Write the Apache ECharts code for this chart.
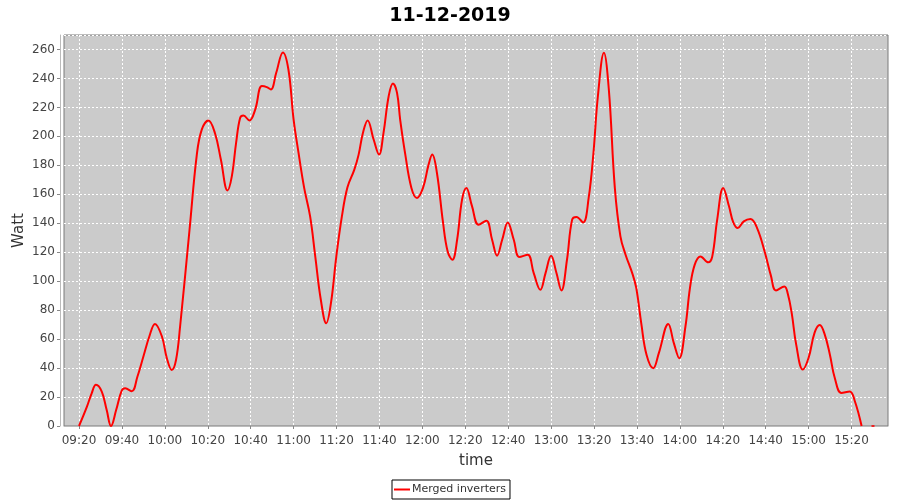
<!DOCTYPE html>
<html>
<head>
<meta charset="utf-8">
<script src="https://cdn.jsdelivr.net/npm/echarts@6/dist/echarts.min.js"></script>
<style>html,body{margin:0;padding:0;background:#fff}#c{width:900px;height:500px}</style>
</head>
<body>
<div id="c"></div>
<script>
const title = '11-12-2019';
const seriesName = 'Merged inverters';
const xTickLabels = ['09:20','09:40','10:00','10:20','10:40','11:00','11:20','11:40','12:00','12:20','12:40','13:00','13:20','13:40','14:00','14:20','14:40','15:00','15:20'];
const times = [
'09:20:00','09:23:36','09:25:54','09:27:54','09:30:36','09:32:54','09:34:54','09:37:18','09:39:54','09:41:30',
'09:44:36','09:47:12','09:50:00','09:52:48','09:55:24','09:58:36','10:00:54','10:03:12','10:05:12','10:07:06',
'10:11:30','10:14:54','10:17:12','10:20:18','10:23:24','10:26:06','10:29:12','10:31:12','10:33:12','10:35:06',
'10:36:36','10:39:24','10:42:06','10:45:12','10:47:30','10:49:24','10:51:54','10:55:00','10:57:36','11:00:00',
'11:02:18','11:04:54','11:07:42','11:10:06','11:12:42','11:15:12','11:17:24','11:19:54','11:22:30','11:25:06',
'11:28:18','11:30:18','11:32:18','11:34:30','11:37:18','11:39:48','11:41:54','11:44:18','11:46:18','11:48:12',
'11:49:42','11:52:00','11:54:54','11:57:30','12:00:18','12:02:54','12:04:36','12:06:48','12:09:36','12:11:48',
'12:14:00','12:16:12','12:18:30','12:20:30','12:23:06','12:26:12','12:29:48','12:32:30','12:34:48','12:37:12',
'12:39:48','12:42:36','12:45:12','12:49:06','12:51:54','12:55:00','12:57:24','13:00:00','13:02:30','13:04:48',
'13:07:24','13:09:48','13:11:48','13:14:54','13:17:30','13:19:42','13:21:48','13:24:36','13:26:54','13:29:42',
'13:32:18','13:34:42','13:37:48','13:39:42','13:42:00','13:44:30','13:47:36','13:50:12','13:54:36','13:57:12',
'13:59:42','14:02:36','14:04:42','14:06:54','14:09:36','14:13:12','14:15:06','14:17:24','14:20:12','14:22:54',
'14:24:54','14:27:00','14:29:48','14:32:54','14:36:00','14:39:36','14:42:24','14:44:48','14:48:42','14:50:18',
'14:52:12','14:54:12','14:57:18','15:00:00','15:02:48','15:05:12','15:07:30','15:09:54','15:12:12','15:15:18',
'15:19:12','15:21:36','15:24:42'];
const watts = [
0,13,22.6,28.4,23.7,11,0,11,24.4,26,
24,34,48,62,70.5,62,47,38.7,45.6,68.7,
135.5,187.4,204.7,211,202,184,162.7,172.4,195.5,212.8,
214.4,211,218.5,234.7,234,232.4,243.9,258,246,211.6,
188.6,164.6,144.7,117,87,71,84.8,117,144.7,164.8,
177,187.4,202.4,211,197.8,187.4,202.4,227.7,236.5,230,
211,187.9,164.4,157.5,164.4,180.5,187.4,174.7,140.9,120.5,
114.8,128.6,156.3,164.4,152,139,141.8,128.6,117.6,128.6,
140.6,128.6,116.7,118.3,105.6,94,105.6,117.6,105.6,93.6,
114.8,142.5,144.3,140.6,157.5,188,227.7,257.7,232.4,164.4,
131,118.3,105.6,95.2,71,49,39.9,50.3,70.5,57.2,
46.8,68.7,95.2,111.3,117.1,113,117.1,142.5,164.4,151.7,
140.6,136.7,141.3,142.9,136.7,120,104,93.6,96.3,91.3,
77.3,56.4,39,47.1,64.5,69.8,63.3,49.4,33.2,22.8,
23.9,16.9,0];
const lastTimes = ['15:30:00'];
const lastWatts = [0];
const xMinLabel = '09:13';
const xMaxLabel = '15:37';
const yMin = 0, yMax = 270, yStep = 20;

function toMin(s){const p=s.split(':');return (+p[0])*60+(+p[1])+(p[2]?(+p[2])/60:0);}
function toLabel(v){const h=Math.floor(v/60),m=Math.round(v%60);return String(h).padStart(2,'0')+':'+String(m).padStart(2,'0');}

const mainData = times.map((t,i)=>[toMin(t),watts[i]]);
const lastData = lastTimes.map((t,i)=>[toMin(t),lastWatts[i]]);
const xTicks = xTickLabels.map(toMin);

const font = 'DejaVu Sans';
const chart = echarts.init(document.getElementById('c'));
chart.setOption({
  animation:false,
  backgroundColor:'#ffffff',
  title:{text:title,left:'center',top:2,textStyle:{fontFamily:font,fontSize:19,fontWeight:'bold',color:'#000'}},
  grid:{left:64,right:12,top:35,bottom:74,show:true,backgroundColor:'#cbcbcb',borderColor:'#7a7a7a',borderWidth:1,containLabel:false,outerBoundsMode:'none'},
  legend:{data:[seriesName],bottom:1,left:'center',borderColor:'#000',borderWidth:1,padding:[4,4,4,2],icon:'rect',itemWidth:16,itemHeight:2,itemGap:0,
    textStyle:{fontFamily:font,fontSize:11,color:'#333',padding:[0,0,0,-3]}},
  xAxis:{type:'value',min:toMin(xMinLabel),max:toMin(xMaxLabel),offset:4,
    name:'time',nameLocation:'middle',nameGap:24,nameMoveOverlap:false,nameTextStyle:{fontFamily:font,fontSize:15,color:'#333'},
    axisLine:{show:true,lineStyle:{color:'#bbbbbb'}},
    axisTick:{show:true,customValues:xTicks,length:3,lineStyle:{color:'#888'}},
    axisLabel:{customValues:xTicks,formatter:v=>toLabel(v),fontFamily:font,fontSize:12,color:'#444',margin:5},
    splitLine:{show:true,lineStyle:{color:'#ffffff',type:[2,2],width:1}}
  },
  yAxis:{type:'value',min:yMin,max:yMax,interval:yStep,offset:4,
    name:'Watt',nameLocation:'middle',nameGap:33,nameMoveOverlap:false,nameTextStyle:{fontFamily:font,fontSize:15,color:'#333'},
    axisLine:{show:true,lineStyle:{color:'#bbbbbb'}},
    axisTick:{show:true,length:3,lineStyle:{color:'#888'}},
    axisLabel:{showMaxLabel:false,fontFamily:font,fontSize:12,color:'#444',margin:5},
    splitLine:{show:true,lineStyle:{color:'#ffffff',type:[2,2],width:1}}
  },
  series:[
    {name:seriesName,type:'line',data:mainData,smooth:0.4,symbol:'none',lineStyle:{color:'#ff0000',width:2},itemStyle:{color:'#ff0000'}},
    {name:seriesName,type:'scatter',data:lastData,symbol:'rect',symbolSize:[3,2],itemStyle:{color:'#ff0000'},silent:true}
  ]
});
</script>
</body>
</html>
